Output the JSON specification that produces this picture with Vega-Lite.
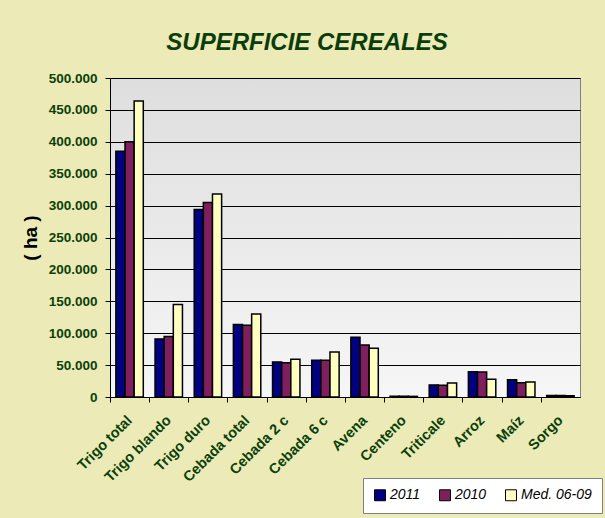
{
  "$schema": "https://vega.github.io/schema/vega-lite/v6.json",
  "autosize": "none",
  "width": 470,
  "height": 319,
  "padding": {"left": 110, "top": 78, "right": 25, "bottom": 121},
  "background": "#ecebb8",
  "title": {
    "text": "SUPERFICIE CEREALES",
    "font": "Liberation Sans",
    "fontSize": 24,
    "fontWeight": "bold",
    "fontStyle": "italic",
    "color": "#0b3d0b",
    "anchor": "middle",
    "dx": -38,
    "offset": 16
  },
  "config": {
    "locale": {"number": {"decimal": ",", "thousands": ".", "grouping": [3], "currency": ["", " €"]}},
    "view": {"stroke": "#808080", "fill": {"gradient": "linear", "x1": 0, "y1": 0, "x2": 0, "y2": 1, "stops": [{"offset": 0, "color": "#dedede"}, {"offset": 1, "color": "#f6f6f6"}]}},
    "font": "Liberation Sans"
  },
  "data": {
    "values": [
      {"cat": "Trigo total", "serie": "2011", "v": 385000},
      {"cat": "Trigo total", "serie": "2010", "v": 400000},
      {"cat": "Trigo total", "serie": "Med. 06-09", "v": 464000},
      {"cat": "Trigo blando", "serie": "2011", "v": 91000},
      {"cat": "Trigo blando", "serie": "2010", "v": 95000},
      {"cat": "Trigo blando", "serie": "Med. 06-09", "v": 145000},
      {"cat": "Trigo duro", "serie": "2011", "v": 294000},
      {"cat": "Trigo duro", "serie": "2010", "v": 305000},
      {"cat": "Trigo duro", "serie": "Med. 06-09", "v": 318000},
      {"cat": "Cebada total", "serie": "2011", "v": 113500},
      {"cat": "Cebada total", "serie": "2010", "v": 112500},
      {"cat": "Cebada total", "serie": "Med. 06-09", "v": 130000},
      {"cat": "Cebada 2 c", "serie": "2011", "v": 55000},
      {"cat": "Cebada 2 c", "serie": "2010", "v": 53500},
      {"cat": "Cebada 2 c", "serie": "Med. 06-09", "v": 59000},
      {"cat": "Cebada 6 c", "serie": "2011", "v": 57500},
      {"cat": "Cebada 6 c", "serie": "2010", "v": 57500},
      {"cat": "Cebada 6 c", "serie": "Med. 06-09", "v": 70500},
      {"cat": "Avena", "serie": "2011", "v": 93500},
      {"cat": "Avena", "serie": "2010", "v": 81500},
      {"cat": "Avena", "serie": "Med. 06-09", "v": 76500},
      {"cat": "Centeno", "serie": "2011", "v": 1200},
      {"cat": "Centeno", "serie": "2010", "v": 1200},
      {"cat": "Centeno", "serie": "Med. 06-09", "v": 1000},
      {"cat": "Triticale", "serie": "2011", "v": 19000},
      {"cat": "Triticale", "serie": "2010", "v": 18500},
      {"cat": "Triticale", "serie": "Med. 06-09", "v": 22000},
      {"cat": "Arroz", "serie": "2011", "v": 39500},
      {"cat": "Arroz", "serie": "2010", "v": 39000},
      {"cat": "Arroz", "serie": "Med. 06-09", "v": 28000},
      {"cat": "Maíz", "serie": "2011", "v": 27000},
      {"cat": "Maíz", "serie": "2010", "v": 22500},
      {"cat": "Maíz", "serie": "Med. 06-09", "v": 23500},
      {"cat": "Sorgo", "serie": "2011", "v": 2500},
      {"cat": "Sorgo", "serie": "2010", "v": 2500},
      {"cat": "Sorgo", "serie": "Med. 06-09", "v": 2000}
    ]
  },
  "mark": {"type": "bar", "stroke": "#000000", "strokeWidth": 1.5},
  "encoding": {
    "x": {
      "field": "cat",
      "type": "nominal",
      "sort": null,
      "scale": {"paddingInner": 0.3, "paddingOuter": 0.15},
      "axis": {
        "title": null,
        "labelAngle": -45,
        "labelAlign": "right",
        "labelBaseline": "middle",
        "labelFont": "Liberation Sans",
        "labelFontSize": 14.5,
        "labelFontWeight": "bold",
        "labelColor": "#0b400b",
        "labelPadding": 16,
        "labelLimit": 120,
        "tickOffset": -19.6,
        "labelOffset": 19.6,
        "tickColor": "#000000",
        "tickSize": 5,
        "domainColor": "#000000",
        "grid": false
      }
    },
    "xOffset": {"field": "serie", "type": "nominal", "sort": ["2011", "2010", "Med. 06-09"]},
    "y": {
      "field": "v",
      "type": "quantitative",
      "scale": {"domain": [0, 500000], "nice": false},
      "axis": {
        "title": "( ha )",
        "titleFont": "Liberation Sans",
        "titleFontSize": 19,
        "titleFontWeight": "bold",
        "titleColor": "#000000",
        "titlePadding": 8,
        "values": [0, 50000, 100000, 150000, 200000, 250000, 300000, 350000, 400000, 450000, 500000],
        "format": ",.0f",
        "labelFont": "Liberation Sans",
        "labelFontSize": 13.5,
        "labelFontWeight": "bold",
        "labelColor": "#0b400b",
        "labelPadding": 8,
        "tickColor": "#000000",
        "tickSize": 5,
        "domainColor": "#000000",
        "gridColor": "#000000",
        "gridWidth": 1,
        "gridOpacity": 1
      }
    },
    "color": {
      "field": "serie",
      "type": "nominal",
      "scale": {"domain": ["2011", "2010", "Med. 06-09"], "range": ["#000080", "#7f1f5f", "#ffffc0"]},
      "legend": {
        "title": null,
        "orient": "none",
        "direction": "horizontal",
        "legendX": 253,
        "legendY": 400,
        "fillColor": "#ffffff",
        "strokeColor": "#808080",
        "padding": 10,
        "symbolType": "square",
        "symbolSize": 120,
        "symbolStrokeColor": "#000000",
        "symbolStrokeWidth": 1,
        "labelFont": "Liberation Sans",
        "labelFontSize": 14,
        "labelFontStyle": "italic",
        "labelColor": "#000000",
        "columnPadding": 16,
        "labelOffset": 3
      }
    }
  }
}
